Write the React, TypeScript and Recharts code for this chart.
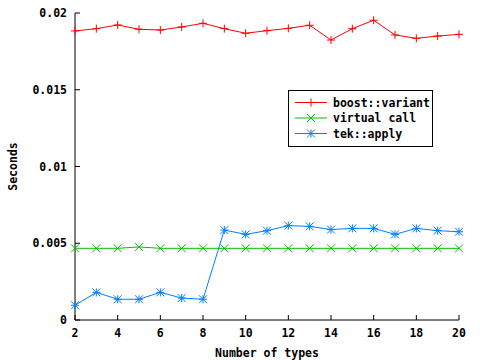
import React from 'react';
import {
  LineChart,
  Line,
  XAxis,
  YAxis,
  Legend,
} from 'recharts';

const types = [2, 3, 4, 5, 6, 7, 8, 9, 10, 11, 12, 13, 14, 15, 16, 17, 18, 19, 20];
const boostVariant = [
  0.01883, 0.01898, 0.01922, 0.01894, 0.01889, 0.01909, 0.01933, 0.01898, 0.01868, 0.01885,
  0.019, 0.0192, 0.01824, 0.01898, 0.01953, 0.01857, 0.01835, 0.0185, 0.01861,
];
const virtualCall = [
  0.00467, 0.00467, 0.00467, 0.00476, 0.00467, 0.00467, 0.00467, 0.00467, 0.00467, 0.00467,
  0.00467, 0.00467, 0.00467, 0.00467, 0.00467, 0.00467, 0.00467, 0.00467, 0.00467,
];
const tekApply = [
  0.00096, 0.0018, 0.00135, 0.00135, 0.0018, 0.00143, 0.00135, 0.00586, 0.00558, 0.00582,
  0.00615, 0.0061, 0.00589, 0.00597, 0.00597, 0.00558, 0.00597, 0.00582, 0.00575,
];
const xTicks = [2, 4, 6, 8, 10, 12, 14, 16, 18, 20];
const yTicks = [0, 0.005, 0.01, 0.015, 0.02];

const data = types.map((n, i) => ({
  n,
  boost: boostVariant[i],
  virt: virtualCall[i],
  tek: tekApply[i],
}));

const FONT = '"DejaVu Sans Mono", monospace';
const tickStyle = { fill: '#000', fontSize: 11.5, fontWeight: 'bold', fontFamily: FONT };

const RED = '#ff0000';
const GREEN = '#00c000';
const BLUE = '#0080ff';

type Shape = 'plus' | 'cross' | 'star';

function markerPath(shape: Shape, cx: number, cy: number, r = 4) {
  const plus = `M${cx - r},${cy}H${cx + r}M${cx},${cy - r}V${cy + r}`;
  const cross = `M${cx - r},${cy - r}L${cx + r},${cy + r}M${cx - r},${cy + r}L${cx + r},${cy - r}`;
  if (shape === 'plus') return plus;
  if (shape === 'cross') return cross;
  return plus + cross;
}

const makeDot = (shape: Shape, color: string) => (props: any) => {
  const { cx, cy, index } = props;
  if (cx == null || cy == null) return <g key={`d-${shape}-${index}`} />;
  return (
    <path
      key={`d-${shape}-${index}`}
      d={markerPath(shape, cx, cy)}
      stroke={color}
      strokeWidth={1}
      fill="none"
    />
  );
};

const legendItems: { label: string; color: string; shape: Shape }[] = [
  { label: 'boost::variant', color: RED, shape: 'plus' },
  { label: 'virtual call', color: GREEN, shape: 'cross' },
  { label: 'tek::apply', color: BLUE, shape: 'star' },
];

function KeyBox() {
  return (
    <svg width={145} height={57} style={{ display: 'block' }}>
      <rect x={0.5} y={0.5} width={144} height={56} fill="#fff" stroke="#000" />
      {legendItems.map((it, i) => {
        const y = 12.5 + i * 15.5;
        return (
          <g key={it.label}>
            <line x1={7} x2={39} y1={y} y2={y} stroke={it.color} />
            <path d={markerPath(it.shape, 23, y)} stroke={it.color} fill="none" />
            <text
              x={45}
              y={y}
              dy="0.35em"
              fontFamily={FONT}
              fontSize={11.5}
              fontWeight="bold"
              fill="#000"
            >
              {it.label}
            </text>
          </g>
        );
      })}
    </svg>
  );
}

export default function App() {
  return (
    <div style={{ position: 'absolute', left: 0, top: 0, background: '#fff' }}>
      <LineChart
        width={480}
        height={360}
        data={data}
        margin={{ top: 13, right: 21, left: 0, bottom: 0 }}
        style={{ fontFamily: FONT }}
      >
        <XAxis
          xAxisId="bottom"
          dataKey="n"
          type="number"
          domain={[2, 20]}
          ticks={xTicks}
          height={40}
          stroke="#000"
          tick={tickStyle}
          tickSize={-5}
          tickMargin={14}
          label={{
            value: 'Number of types',
            position: 'insideBottom',
            offset: 3,
            fill: '#000',
            fontSize: 11.5,
            fontWeight: 'bold',
            fontFamily: FONT,
          }}
        />
        <XAxis
          xAxisId="top"
          dataKey="n"
          type="number"
          domain={[2, 20]}
          ticks={xTicks}
          orientation="top"
          height={0}
          stroke="#000"
          tick={tickStyle}
          tickFormatter={() => ''}
          tickSize={-5}
        />
        <YAxis
          yAxisId="left"
          type="number"
          domain={[0, 0.02]}
          ticks={yTicks}
          width={75}
          stroke="#000"
          tick={tickStyle}
          tickSize={-5}
          tickMargin={13}
          tickFormatter={(v: number) => String(v)}
          label={{
            value: 'Seconds',
            angle: -90,
            position: 'insideLeft',
            offset: 13,
            fill: '#000',
            fontSize: 11.5,
            fontWeight: 'bold',
            fontFamily: FONT,
            style: { textAnchor: 'middle' },
          }}
        />
        <YAxis
          yAxisId="right"
          type="number"
          domain={[0, 0.02]}
          ticks={yTicks}
          orientation="right"
          width={0}
          stroke="#000"
          tick={tickStyle}
          tickFormatter={() => ''}
          tickSize={-5}
        />
        <Legend
          layout="vertical"
          align="center"
          verticalAlign="middle"
          wrapperStyle={{ left: 288, top: 90, width: 145, height: 57 }}
          content={() => <KeyBox />}
        />
        <Line
          xAxisId="bottom"
          yAxisId="left"
          dataKey="boost"
          name="boost::variant"
          stroke={RED}
          strokeWidth={1}
          dot={makeDot('plus', RED)}
          isAnimationActive={false}
        />
        <Line
          xAxisId="bottom"
          yAxisId="left"
          dataKey="virt"
          name="virtual call"
          stroke={GREEN}
          strokeWidth={1}
          dot={makeDot('cross', GREEN)}
          isAnimationActive={false}
        />
        <Line
          xAxisId="bottom"
          yAxisId="left"
          dataKey="tek"
          name="tek::apply"
          stroke={BLUE}
          strokeWidth={1}
          dot={makeDot('star', BLUE)}
          isAnimationActive={false}
        />
      </LineChart>
    </div>
  );
}
